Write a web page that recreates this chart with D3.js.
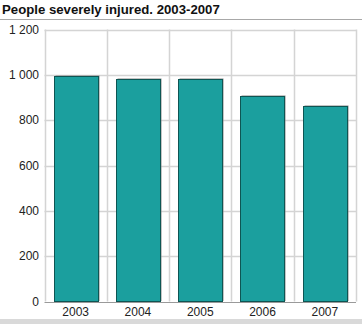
<!DOCTYPE html>
<html>
<head>
<meta charset="utf-8">
<script src="https://cdn.jsdelivr.net/npm/d3@7"></script>
<style>
  html, body { margin: 0; padding: 0; background: #fff; }
  svg { display: block; font-family: "Liberation Sans", Arial, sans-serif; }
</style>
</head>
<body>
<svg id="chart" width="362" height="324"></svg>
<script>
// Severely injured people by year
const years = ["2003", "2004", "2005", "2006", "2007"];
const injured = [995, 981, 980, 908, 862];
const yTicks = [0, 200, 400, 600, 800, 1000, 1200];
const title = "People severely injured. 2003-2007";

const svg = d3.select("#chart");
const W = 362, H = 324;
const m = { left: 44.5, right: 6, top: 29.5, bottom: 22.5 };
const plotR = W - m.right, plotB = H - m.bottom;

// Title and rule beneath it
svg.append("text")
  .attr("x", 2).attr("y", 14)
  .attr("font-size", 13.2).attr("font-weight", "bold")
  .attr("fill", "#111")
  .text(title);
svg.append("line")
  .attr("x1", 0).attr("x2", W).attr("y1", 19.5).attr("y2", 19.5)
  .attr("stroke", "#a8a8a8").attr("stroke-width", 1);

// Footer band
svg.append("rect")
  .attr("x", 0).attr("y", 319).attr("width", W).attr("height", 5)
  .attr("fill", "#d9d9d9");

const x = d3.scaleBand().domain(years).range([m.left, plotR]).paddingInner(0.29).paddingOuter(0.145);
const xGrid = d3.scaleBand().domain(years).range([m.left, plotR]);
const y = d3.scaleLinear().domain([0, 1200]).range([plotB, m.top]);

// Horizontal gridlines
svg.append("g")
  .selectAll("line").data(yTicks.filter(d => d > 0)).join("line")
  .attr("x1", m.left).attr("x2", plotR)
  .attr("y1", d => Math.round(y(d)) + 0.5).attr("y2", d => Math.round(y(d)) + 0.5)
  .attr("stroke", "#d4d4d4").attr("stroke-width", 1.5);

// Vertical gridlines at band edges
const edges = years.map(yr => xGrid(yr)).concat([plotR]);
svg.append("g")
  .selectAll("line").data(edges).join("line")
  .attr("x1", d => Math.round(d) + 0.5).attr("x2", d => Math.round(d) + 0.5)
  .attr("y1", m.top).attr("y2", plotB)
  .attr("stroke", "#d4d4d4").attr("stroke-width", 1.5);

// Bars with a light offset shadow
const bars = svg.append("g");
bars.selectAll("rect.shadow").data(injured).join("rect")
  .attr("class", "shadow")
  .attr("x", (d, i) => Math.round(x(years[i])) + 1.5)
  .attr("y", d => Math.round(y(d)) - 0.5)
  .attr("width", Math.round(x.bandwidth()))
  .attr("height", d => plotB - Math.round(y(d)))
  .attr("fill", "#8a8a8a");
bars.selectAll("rect.bar").data(injured).join("rect")
  .attr("class", "bar")
  .attr("x", (d, i) => Math.round(x(years[i])) + 0.5)
  .attr("y", d => Math.round(y(d)) + 0.5)
  .attr("width", Math.round(x.bandwidth()))
  .attr("height", d => plotB - Math.round(y(d)) - 0.5)
  .attr("fill", "#1b9f9e")
  .attr("stroke", "#0e5553").attr("stroke-width", 1);

// Baseline
svg.append("line")
  .attr("x1", m.left).attr("x2", plotR)
  .attr("y1", Math.round(plotB) + 0.5).attr("y2", Math.round(plotB) + 0.5)
  .attr("stroke", "#9a9a9a").attr("stroke-width", 1);

// Y axis labels, thousands separated by a space
const fmtTick = d => d >= 1000 ? Math.floor(d / 1000) + " " + String(d % 1000).padStart(3, "0") : String(d);
svg.append("g")
  .selectAll("text").data(yTicks).join("text")
  .attr("x", 39).attr("y", d => y(d) + 4)
  .attr("text-anchor", "end").attr("font-size", 12).attr("fill", "#222")
  .text(fmtTick);

// X axis labels
svg.append("g")
  .selectAll("text").data(years).join("text")
  .attr("x", d => xGrid(d) + xGrid.bandwidth() / 2).attr("y", 316)
  .attr("text-anchor", "middle").attr("font-size", 12).attr("fill", "#222")
  .text(d => d);
</script>
</body>
</html>
